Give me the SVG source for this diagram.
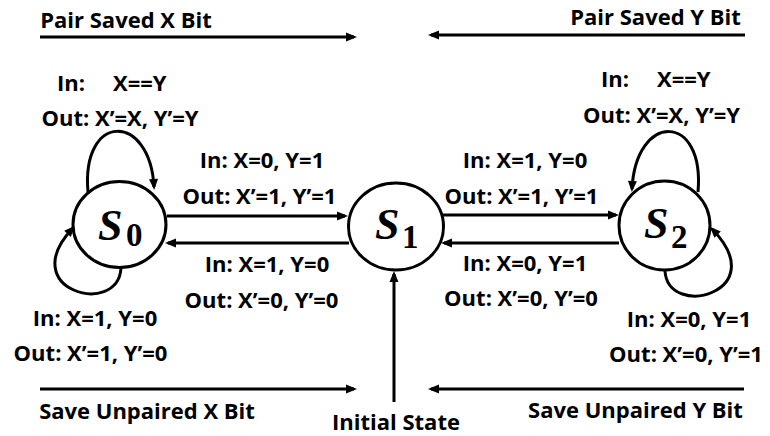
<svg xmlns="http://www.w3.org/2000/svg" width="770" height="436" viewBox="0 0 770 436">
  <defs>
    <marker id="arrow" markerUnits="userSpaceOnUse" markerWidth="12" markerHeight="10" refX="8" refY="4.5" orient="auto" overflow="visible">
      <path d="M0,0 L11,4.5 L0,9 z" fill="#000"/>
    </marker>
    <style>
      .lbl { font-family: "Open Sans", Lato, "Liberation Sans", sans-serif; font-weight: bold; font-size: 22px; fill: #000; }
      .mid { text-anchor: middle; }
      .state { fill: #fff; stroke: #000; stroke-width: 3; }
      .sym { font-family: "Liberation Serif", "DejaVu Serif", serif; font-weight: bold; font-style: italic; font-size: 44px; fill: #000; }
      .sub { font-family: "Liberation Serif", "DejaVu Serif", serif; font-weight: bold; font-size: 33px; fill: #000; }
      .edge { fill: none; stroke: #000; stroke-width: 3; marker-end: url(#arrow); }
    </style>
  </defs>
  <rect width="770" height="436" fill="#fff"/>

  <!-- connectors -->
  <g id="connectors">
    <!-- direction guides -->
    <line class="edge" x1="40" y1="37" x2="354" y2="37"/>
    <line class="edge" x1="745" y1="35" x2="431" y2="35"/>
    <line class="edge" x1="40" y1="389" x2="354" y2="389"/>
    <line class="edge" x1="744" y1="389" x2="431" y2="389"/>
    <!-- transitions between states -->
    <line class="edge" x1="167" y1="216" x2="345" y2="216"/>
    <line class="edge" x1="349" y1="243" x2="168" y2="243"/>
    <line class="edge" x1="442" y1="215" x2="616" y2="215"/>
    <line class="edge" x1="619" y1="243" x2="444" y2="243"/>
    <!-- self loops -->
    <path class="edge" d="M88,192 C81,112 150,112 154,187"/>
    <path class="edge" d="M121,268 C118,318 14,290 73,228"/>
    <path class="edge" d="M698,192 C705,112 636,112 632,189"/>
    <path class="edge" d="M665,271 C668,320 774,292 712,229"/>
    <!-- initial state -->
    <line class="edge" x1="394" y1="402" x2="394" y2="274"/>
  </g>

  <!-- states -->
  <g id="s0">
    <ellipse class="state" cx="119.5" cy="224.5" rx="46.5" ry="43"/>
    <text class="sym" x="98" y="240">S</text>
    <text class="sub" x="126" y="246">0</text>
  </g>
  <g id="s1">
    <ellipse class="state" cx="396" cy="226.5" rx="47.5" ry="43.5"/>
    <text class="sym" x="375" y="239">S</text>
    <text class="sub" x="402" y="248">1</text>
  </g>
  <g id="s2">
    <ellipse class="state" cx="664.5" cy="225.5" rx="45.5" ry="44.5"/>
    <text class="sym" x="644" y="238">S</text>
    <text class="sub" x="671" y="248">2</text>
  </g>

  <!-- labels -->
  <g id="labels">
    <text class="lbl mid" x="126" y="28">Pair Saved X Bit</text>
    <text class="lbl mid" x="655.5" y="25">Pair Saved Y Bit</text>

    <text class="lbl"><tspan x="57" y="90.5">In:</tspan><tspan x="113" y="90.5">X==Y</tspan></text>
    <text class="lbl mid" x="120" y="126">Out: X’=X, Y’=Y</text>
    <text class="lbl"><tspan x="601" y="87">In:</tspan><tspan x="657" y="87">X==Y</tspan></text>
    <text class="lbl mid" x="661.5" y="122.5">Out: X’=X, Y’=Y</text>

    <text class="lbl mid" x="262" y="168">In: X=0, Y=1</text>
    <text class="lbl mid" x="259.5" y="204">Out: X’=1, Y’=1</text>
    <text class="lbl mid" x="267" y="272">In: X=1, Y=0</text>
    <text class="lbl mid" x="261.5" y="307.5">Out: X’=0, Y’=0</text>

    <text class="lbl mid" x="525" y="168">In: X=1, Y=0</text>
    <text class="lbl mid" x="521.5" y="204">Out: X’=1, Y’=1</text>
    <text class="lbl mid" x="525" y="271">In: X=0, Y=1</text>
    <text class="lbl mid" x="521" y="306">Out: X’=0, Y’=0</text>

    <text class="lbl mid" x="95" y="326">In: X=1, Y=0</text>
    <text class="lbl mid" x="90.5" y="360.5">Out: X’=1, Y’=0</text>
    <text class="lbl mid" x="689" y="326.5">In: X=0, Y=1</text>
    <text class="lbl mid" x="686" y="361.5">Out: X’=0, Y’=1</text>

    <text class="lbl mid" x="147" y="419">Save Unpaired X Bit</text>
    <text class="lbl mid" x="635.5" y="418">Save Unpaired Y Bit</text>
    <text class="lbl mid" x="396" y="430">Initial State</text>
  </g>
</svg>
